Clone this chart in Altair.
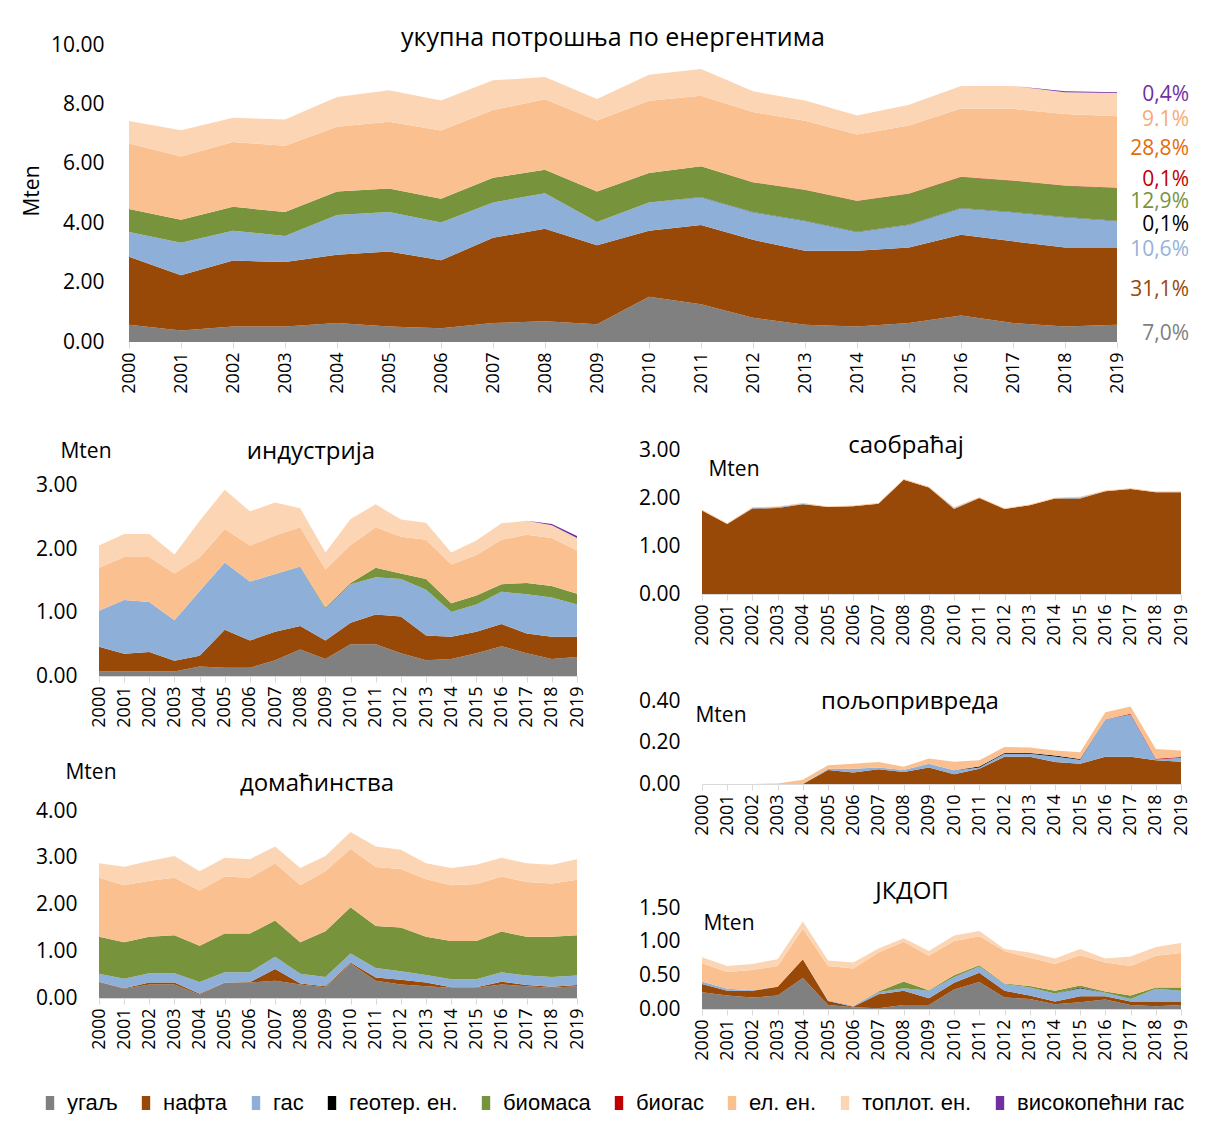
import altair as alt
import pandas as pd

FONT = "Open Sans"
YEARS = list(range(2000, 2020))
SERIES = ["угаљ", "нафта", "гас", "геотер. ен.", "биомаса", "биогас", "ел. ен.", "топлот. ен.", "високопећни гас"]
COLORS = ["#808080", "#984807", "#8EAFD8", "#000000", "#77933C", "#C00000", "#FAC090", "#FCD5B5", "#7030A0"]

# ---- total consumption (Mten) ----
TOT_COAL = [0.58, 0.39, 0.52, 0.52, 0.64, 0.52, 0.46, 0.64, 0.70, 0.60, 1.52, 1.27, 0.82, 0.58, 0.52, 0.64, 0.89, 0.64, 0.52, 0.58]
TOT_OIL = [2.29, 1.86, 2.22, 2.17, 2.30, 2.53, 2.29, 2.87, 3.11, 2.66, 2.23, 2.67, 2.62, 2.49, 2.55, 2.54, 2.72, 2.75, 2.66, 2.60]
TOT_GAS = [0.83, 1.09, 1.01, 0.88, 1.34, 1.33, 1.27, 1.19, 1.20, 0.78, 0.95, 0.93, 0.93, 1.00, 0.63, 0.77, 0.89, 0.98, 1.02, 0.89]
TOT_GEO = [0, 0, 0, 0, 0, 0, 0, 0, 0, 0, 0, 0.01, 0.01, 0.01, 0.01, 0.01, 0.01, 0.01, 0.01, 0.01]
TOT_BIOMASS = [0.78, 0.78, 0.80, 0.81, 0.79, 0.79, 0.80, 0.83, 0.79, 1.03, 0.99, 1.04, 0.99, 1.04, 1.04, 1.03, 1.04, 1.05, 1.05, 1.10]
TOT_BIOGAS = [0, 0, 0, 0, 0, 0, 0, 0, 0, 0, 0, 0, 0.01, 0.01, 0.01, 0.01, 0.01, 0.01, 0.01, 0.01]
TOT_ELEC = [2.20, 2.13, 2.18, 2.23, 2.18, 2.25, 2.30, 2.28, 2.37, 2.39, 2.43, 2.37, 2.36, 2.32, 2.23, 2.29, 2.30, 2.41, 2.41, 2.41]
TOT_HEAT = [0.76, 0.88, 0.82, 0.88, 1.00, 1.06, 1.01, 1.00, 0.75, 0.72, 0.88, 0.90, 0.70, 0.68, 0.64, 0.70, 0.76, 0.77, 0.73, 0.78]
TOT_BFG = [0, 0, 0, 0, 0, 0, 0, 0, 0, 0, 0, 0, 0, 0, 0, 0, 0, 0.0, 0.03, 0.03]

PCT_LABELS = ["0,4%", "9.1%", "28,8%", "0,1%", "12,9%", "0,1%", "10,6%", "31,1%", "7,0%"]
PCT_POS = [8.30, 7.46, 6.49, 5.45, 4.72, 3.95, 3.11, 1.74, 0.27]
PCT_COLORS = ["#7030A0", "#F5AC74", "#E46C0A", "#C00000", "#77933C", "#000000", "#95B3D7", "#984807", "#7F7F7F"]

# ---- industry ----
IND_COAL = [0.07, 0.07, 0.07, 0.07, 0.15, 0.13, 0.13, 0.25, 0.42, 0.27, 0.50, 0.50, 0.36, 0.25, 0.27, 0.36, 0.47, 0.36, 0.27, 0.30]
IND_OIL = [0.39, 0.28, 0.31, 0.17, 0.17, 0.60, 0.43, 0.45, 0.37, 0.29, 0.34, 0.47, 0.58, 0.39, 0.35, 0.34, 0.35, 0.31, 0.35, 0.32]
IND_GAS = [0.57, 0.85, 0.79, 0.64, 1.02, 1.06, 0.93, 0.91, 0.93, 0.50, 0.61, 0.59, 0.59, 0.72, 0.39, 0.43, 0.51, 0.62, 0.62, 0.51]
IND_BIOMASS = [0, 0, 0, 0, 0, 0, 0, 0, 0.01, 0.02, 0.02, 0.15, 0.09, 0.17, 0.14, 0.14, 0.12, 0.18, 0.18, 0.17]
IND_ELEC = [0.68, 0.68, 0.71, 0.74, 0.53, 0.53, 0.57, 0.61, 0.62, 0.60, 0.60, 0.64, 0.58, 0.62, 0.61, 0.64, 0.70, 0.76, 0.76, 0.68]
IND_HEAT = [0.35, 0.36, 0.36, 0.30, 0.58, 0.62, 0.54, 0.52, 0.30, 0.27, 0.41, 0.36, 0.27, 0.27, 0.19, 0.23, 0.26, 0.22, 0.20, 0.20]
IND_BFG = [0, 0, 0, 0, 0, 0, 0, 0, 0, 0, 0, 0, 0, 0, 0, 0, 0, 0.0, 0.02, 0.03]

# ---- households ----
HH_COAL = [0.34, 0.20, 0.29, 0.29, 0.07, 0.33, 0.33, 0.37, 0.29, 0.23, 0.74, 0.37, 0.29, 0.25, 0.22, 0.22, 0.29, 0.25, 0.22, 0.25]
HH_OIL = [0.01, 0.01, 0.04, 0.04, 0.02, 0.00, 0.01, 0.25, 0.02, 0.02, 0.02, 0.07, 0.10, 0.08, 0.01, 0.01, 0.06, 0.03, 0.02, 0.03]
HH_GAS = [0.17, 0.20, 0.20, 0.20, 0.25, 0.22, 0.21, 0.26, 0.21, 0.20, 0.19, 0.20, 0.18, 0.16, 0.17, 0.17, 0.20, 0.20, 0.21, 0.20]
HH_BIOMASS = [0.79, 0.78, 0.78, 0.81, 0.78, 0.83, 0.83, 0.78, 0.67, 0.98, 0.99, 0.90, 0.94, 0.82, 0.82, 0.82, 0.87, 0.83, 0.86, 0.86]
HH_ELEC = [1.26, 1.22, 1.20, 1.23, 1.18, 1.22, 1.19, 1.22, 1.22, 1.28, 1.25, 1.26, 1.25, 1.23, 1.19, 1.22, 1.18, 1.17, 1.14, 1.19]
HH_HEAT = [0.31, 0.40, 0.42, 0.47, 0.41, 0.40, 0.40, 0.36, 0.37, 0.33, 0.36, 0.44, 0.41, 0.34, 0.37, 0.41, 0.40, 0.40, 0.40, 0.44]

# ---- transport ----
TR_OIL = [1.74, 1.46, 1.78, 1.79, 1.87, 1.81, 1.83, 1.88, 2.38, 2.22, 1.77, 2.00, 1.77, 1.85, 1.99, 1.99, 2.14, 2.19, 2.12, 2.12]
TR_GAS = [0, 0, 0.01, 0.02, 0.01, 0, 0, 0, 0, 0, 0.02, 0, 0, 0, 0, 0.02, 0, 0, 0, 0]
TR_ELEC = [0.015, 0.015, 0.015, 0.015, 0.015, 0.015, 0.015, 0.015, 0.015, 0.015, 0.015, 0.015, 0.015, 0.015, 0.015, 0.015, 0.015, 0.015, 0.015, 0.015]

# ---- agriculture ----
AG_OIL = [0, 0, 0, 0, 0, 0.068, 0.055, 0.071, 0.058, 0.079, 0.047, 0.074, 0.131, 0.131, 0.106, 0.098, 0.131, 0.131, 0.115, 0.107]
AG_GAS = [0, 0, 0, 0, 0, 0.006, 0.019, 0.008, 0.010, 0.019, 0.019, 0.006, 0.015, 0.015, 0.027, 0.019, 0.181, 0.204, 0.003, 0.019]
AG_GEO = [0, 0, 0, 0, 0, 0, 0, 0, 0, 0, 0, 0.004, 0.004, 0.004, 0.004, 0.004, 0, 0, 0, 0]
AG_BIOGAS = [0, 0, 0, 0, 0, 0, 0, 0, 0, 0, 0, 0, 0, 0, 0, 0, 0, 0.004, 0.004, 0.004]
AG_ELEC = [0, 0, 0, 0.003, 0.02, 0.016, 0.024, 0.027, 0.015, 0.025, 0.041, 0.031, 0.028, 0.026, 0.024, 0.032, 0.034, 0.034, 0.047, 0.031]

# ---- public & commercial (JKDOP) ----
JK_COAL = [0.25, 0.20, 0.17, 0.20, 0.46, 0.06, 0.025, 0.01, 0.06, 0.06, 0.29, 0.40, 0.17, 0.15, 0.07, 0.10, 0.14, 0.06, 0.04, 0.06]
JK_OIL = [0.12, 0.07, 0.10, 0.13, 0.28, 0.06, 0.01, 0.21, 0.21, 0.10, 0.10, 0.14, 0.10, 0.05, 0.04, 0.09, 0.05, 0.05, 0.07, 0.05]
JK_GAS = [0.04, 0.03, 0.01, 0.0, 0.0, 0.01, 0.015, 0.03, 0.04, 0.11, 0.08, 0.09, 0.10, 0.12, 0.12, 0.12, 0.05, 0.04, 0.19, 0.16]
JK_GEO = [0, 0, 0, 0, 0, 0, 0, 0, 0, 0, 0, 0, 0, 0, 0, 0.01, 0, 0, 0, 0]
JK_BIOMASS = [0, 0, 0, 0, 0, 0, 0, 0.01, 0.10, 0.01, 0.03, 0.02, 0.01, 0.02, 0.04, 0.03, 0.02, 0.05, 0.02, 0.05]
JK_ELEC = [0.27, 0.25, 0.30, 0.31, 0.45, 0.51, 0.55, 0.58, 0.59, 0.51, 0.51, 0.43, 0.48, 0.42, 0.40, 0.45, 0.43, 0.44, 0.47, 0.51]
JK_HEAT = [0.09, 0.09, 0.09, 0.10, 0.11, 0.08, 0.09, 0.06, 0.05, 0.07, 0.08, 0.08, 0.03, 0.08, 0.08, 0.09, 0.06, 0.14, 0.13, 0.15]

LEGEND = alt.Legend(
    title=None, orient="none", legendX=-60, legendY=1047, direction="horizontal", columns=9,
    symbolType="M-0.6,-1H0.6V1H-0.6Z", symbolSize=196, symbolStrokeWidth=0,
    labelFont="Liberation Sans", labelFontSize=22, labelColor="#000", columnPadding=17,
    labelOffset=6, padding=0, labelLimit=400,
)


def txt(text, x, y, size, angle=0):
    return alt.Chart(pd.DataFrame({"t": [text]})).mark_text(
        font=FONT, fontSize=size, align="center", baseline="middle", color="#000", angle=angle
    ).encode(text="t:N", x=alt.value(x), y=alt.value(y))


def panel(data, width, height, ydomain, yticks, title, tpos, mpos, title_size=24, mten_angle=0,
          xdomain=(2000, 2019), xline=True, label_pad=22, min_ext=None, extra=None):
    rows = []
    for s, vals in data.items():
        idx = SERIES.index(s)
        for yr, v in zip(YEARS, vals):
            rows.append({"year": yr, "series": s, "idx": idx, "value": v})
    df = pd.DataFrame(rows)
    yaxis_kw = dict(values=yticks, format=".2f", labelFont=FONT, labelFontSize=21, labelColor="#000",
                    labelPadding=label_pad, domain=False, ticks=False, grid=False, title=None, labelFlush=False)
    if min_ext is not None:
        yaxis_kw["minExtent"] = min_ext
    yaxis = alt.Axis(**yaxis_kw)
    yscale = alt.Scale(domain=list(ydomain), nice=False)
    area = alt.Chart(df).mark_area(interpolate="linear").encode(
        x=alt.X("year:Q", scale=alt.Scale(domain=list(xdomain), nice=False, zero=False),
                axis=alt.Axis(values=YEARS, format="d", labelAngle=-90, labelOverlap=False, labelFlush=False,
                              labelFont=FONT, labelFontSize=18, labelColor="#000", labelPadding=4,
                              domain=xline, domainColor="#D9D9D9", tickColor="#D9D9D9", tickSize=6,
                              grid=False, title=None)),
        y=alt.Y("value:Q", stack="zero", scale=yscale, axis=yaxis),
        color=alt.Color("series:N", scale=alt.Scale(domain=SERIES, range=COLORS), legend=LEGEND),
        order=alt.Order("idx:Q", sort="ascending"),
    )
    layers = [area, txt(title, tpos[0], tpos[1], title_size), txt("Mten", mpos[0], mpos[1], 21, mten_angle)]
    if extra is not None:
        layers.append(extra(yscale, yaxis))
    return alt.layer(*layers).properties(width=width, height=height)


def pct_layer(yscale, yaxis):
    return alt.Chart(pd.DataFrame({"label": PCT_LABELS, "pos": PCT_POS, "color": PCT_COLORS})).mark_text(
        font=FONT, fontSize=21, align="right", baseline="middle"
    ).encode(
        text="label:N",
        x=alt.value(1090),
        y=alt.Y("pos:Q", scale=yscale, axis=yaxis),
        color=alt.Color("color:N", scale=None),
    )


top = panel(
    {"угаљ": TOT_COAL, "нафта": TOT_OIL, "гас": TOT_GAS, "геотер. ен.": TOT_GEO, "биомаса": TOT_BIOMASS,
     "биогас": TOT_BIOGAS, "ел. ен.": TOT_ELEC, "топлот. ен.": TOT_HEAT, "високопећни гас": TOT_BFG},
    1018, 297, (0, 10), [0, 2, 4, 6, 8, 10], "укупна потрошња по енергентима", (514, -7), (-66, 146),
    title_size=25, mten_angle=270, xdomain=(1999.423, 2019), xline=False, label_pad=-5, extra=pct_layer,
)
ind = panel(
    {"угаљ": IND_COAL, "нафта": IND_OIL, "гас": IND_GAS, "биомаса": IND_BIOMASS, "ел. ен.": IND_ELEC,
     "топлот. ен.": IND_HEAT, "високопећни гас": IND_BFG},
    478, 226, (0, 3.568), [0, 1, 2, 3], "индустрија", (212, 2), (-13, 2),
)
hh = panel(
    {"угаљ": HH_COAL, "нафта": HH_OIL, "гас": HH_GAS, "биомаса": HH_BIOMASS, "ел. ен.": HH_ELEC,
     "топлот. ен.": HH_HEAT},
    478, 187, (0, 4), [0, 1, 2, 3, 4], "домаћинства", (218, -27), (-8, -38),
)
tr = panel(
    {"нафта": TR_OIL, "гас": TR_GAS, "ел. ен.": TR_ELEC},
    479, 144, (0, 3), [0, 1, 2, 3], "саобраћај", (204, -4), (32, 20), min_ext=100,
)
ag = panel(
    {"нафта": AG_OIL, "гас": AG_GAS, "геотер. ен.": AG_GEO, "биогас": AG_BIOGAS, "ел. ен.": AG_ELEC},
    479, 83, (0, 0.4), [0, 0.2, 0.4], "пољопривреда", (208, 1), (19, 15), min_ext=100,
)
jk = panel(
    {"угаљ": JK_COAL, "нафта": JK_OIL, "гас": JK_GAS, "геотер. ен.": JK_GEO, "биомаса": JK_BIOMASS,
     "ел. ен.": JK_ELEC, "топлот. ен.": JK_HEAT},
    479, 101, (0, 1.5), [0, 0.5, 1, 1.5], "ЈКДОП", (210, -16), (27, 16), min_ext=100,
)

left = alt.vconcat(ind, hh, spacing=34)
right = alt.vconcat(tr, ag, jk, spacing=44)

chart = alt.vconcat(
    top,
    alt.hconcat(left, right, spacing=15),
    spacing=40,
).properties(
    padding={"left": 14, "top": 18, "right": 0, "bottom": 0}
).configure_view(stroke=None)

chart.save("out.html", embed_options={"renderer": "svg", "actions": False})
